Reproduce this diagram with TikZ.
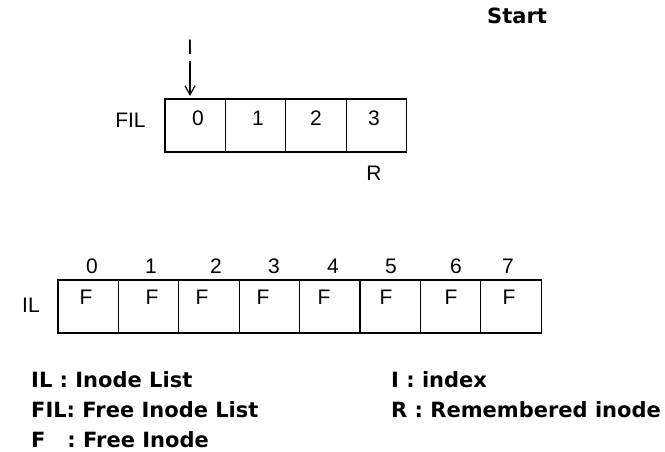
\documentclass[tikz,border=0pt]{standalone}
\usepackage{fontspec}
\setmainfont{Liberation Sans}
\newfontfamily\legendfont{DejaVu Sans}
\usetikzlibrary{arrows.meta}
\begin{document}
\begin{tikzpicture}[x=1pt,y=-1pt,
  cellbox/.style={draw,line width=1.2pt,minimum width=60.4pt,minimum height=53pt,inner sep=0pt,outer sep=0pt},
  lbl/.style={font=\fontsize{21}{21}\selectfont,inner sep=0pt},
  leg/.style={font=\legendfont\bfseries\fontsize{21}{21}\selectfont,inner sep=0pt,anchor=west}]
\useasboundingbox (0,0) rectangle (665,452);
% FIL cells
\foreach \i/\x in {0/195.2,1/255.6,2/316.0,3/376.4}{
  \node[cellbox] (f\i) at (\x,125.5) {};
}
\node[lbl] (fil) at (130.5,120.5) {FIL};
\node[lbl] (d0) at (198,118) {0};
\node[lbl] (d1) at (258,118) {1};
\node[lbl] (d2) at (316,118) {2};
\node[lbl] (d3) at (374,118) {3};
\node[lbl] (R) at (374,173.5) {R};
\node[lbl] (I) at (190,47.5) {I};
\coordinate (itip) at (190,96);
\draw[-{Straight Barb[length=9pt,width=10pt,line width=1.2pt]},line width=1.2pt] (I.south) ++(0,6) -- (itip);
% IL cells
\foreach \i in {0,...,7}{
  \node[cellbox] (c\i) at (88.2+60.4*\i,306.5) {};
}
\node[lbl] (il) at (31,305) {IL};
\foreach \i/\x in {0/92,1/151,2/216,3/274,4/333,5/391,6/456,7/508}{
  \node[lbl] (n\i) at (\x,266.5) {\i};
}
\foreach \i/\x in {0/86,1/152,2/202,3/263,4/324,5/386,6/451,7/509}{
  \node[lbl] (F\i) at (\x,297.5) {F};
}
% legend
\node[leg] (l1) at (31,380) {IL : Inode List};
\node[leg] (l2) at (31,410) {FIL: Free Inode List};
\node[leg] (l3) at (31,440) {F\ \ \ : Free Inode};
\node[leg] (l4) at (391,380) {I : index};
\node[leg] (l5) at (391,410) {R : Remembered inode};
\node[leg] (start) at (487,16) {Start};
\end{tikzpicture}
\end{document}
